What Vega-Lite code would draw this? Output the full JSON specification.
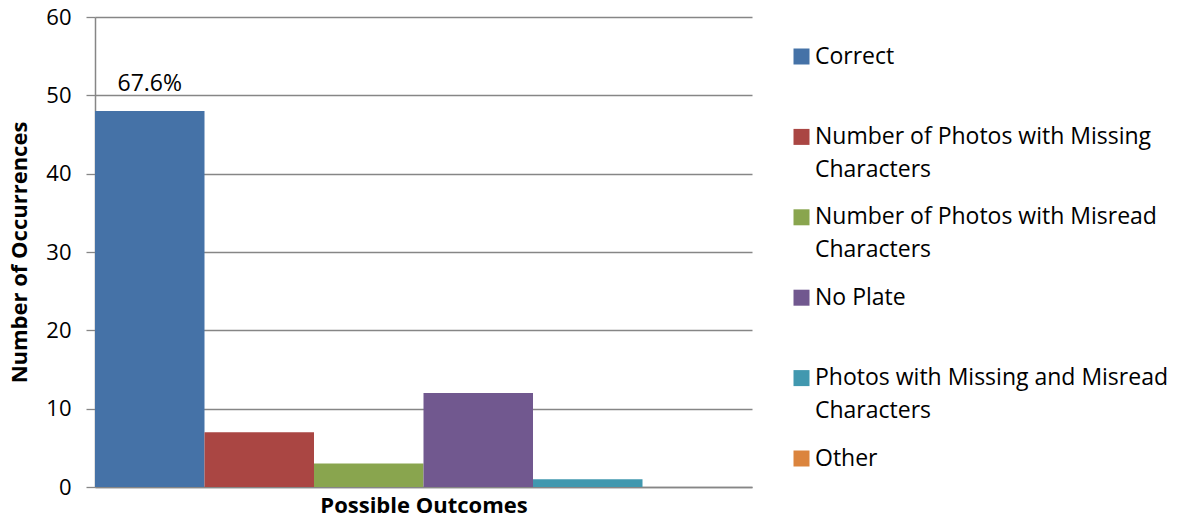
{
  "$schema": "https://vega.github.io/schema/vega-lite/v6.json",
  "width": 657,
  "height": 470,
  "autosize": {"type": "none"},
  "padding": {"left": 95, "top": 17, "right": 440, "bottom": 38},
  "background": "white",
  "config": {
    "view": {"stroke": null},
    "font": "Open Sans",
    "style": {"guide-label": {"lineHeight": 33}}
  },
  "data": {
    "values": [
      {"outcome": "Correct", "count": 48, "label": "67.6%"},
      {"outcome": "Number of Photos with Missing Characters", "count": 7, "label": ""},
      {"outcome": "Number of Photos with Misread Characters", "count": 3, "label": ""},
      {"outcome": "No Plate", "count": 12, "label": ""},
      {"outcome": "Photos with Missing and Misread Characters", "count": 1, "label": ""},
      {"outcome": "Other", "count": 0, "label": ""}
    ]
  },
  "encoding": {
    "x": {
      "field": "outcome",
      "type": "nominal",
      "sort": null,
      "scale": {"paddingInner": 0, "paddingOuter": 0},
      "axis": {
        "labels": false,
        "ticks": false,
        "domainColor": "#868686",
        "domainWidth": 1.5,
        "title": "Possible Outcomes",
        "titleFont": "Open Sans",
        "titleFontSize": 22,
        "titleFontWeight": "bold",
        "titleColor": "black",
        "titlePadding": 8
      }
    },
    "y": {
      "field": "count",
      "type": "quantitative",
      "scale": {"domain": [0, 60]},
      "axis": {
        "values": [0, 10, 20, 30, 40, 50, 60],
        "grid": true,
        "gridColor": "#868686",
        "gridWidth": 1.3,
        "domainColor": "#868686",
        "domainWidth": 1.5,
        "tickColor": "#868686",
        "tickSize": 9,
        "tickWidth": 1.3,
        "labelFont": "Open Sans",
        "labelFontSize": 22,
        "labelColor": "black",
        "labelPadding": 15,
        "title": "Number of Occurrences",
        "titleFont": "Open Sans",
        "titleFontSize": 22,
        "titleFontWeight": "bold",
        "titleColor": "black",
        "titlePadding": 14
      }
    }
  },
  "layer": [
    {
      "mark": {"type": "bar"},
      "encoding": {
        "color": {
          "field": "outcome",
          "type": "nominal",
          "sort": null,
          "scale": {
            "domain": ["Correct", "Number of Photos with Missing Characters", "Number of Photos with Misread Characters", "No Plate", "Photos with Missing and Misread Characters", "Other"],
            "range": ["#4572A7", "#AA4643", "#89A54E", "#71588F", "#4198AF", "#DB843D"]
          },
          "legend": {
            "title": null,
            "orient": "none",
            "legendX": 695,
            "legendY": 28,
            "gridAlign": "all",
            "symbolType": "square",
            "symbolSize": 256,
            "symbolStrokeWidth": 0,
            "symbolOpacity": 1,
            "labelFont": "Open Sans",
            "labelFontSize": 23,
            "labelColor": "black",
            "labelLimit": 420,
            "labelOffset": 2,
            "labelBaseline": "middle",
            "rowPadding": 23.4,
            "labelExpr": "datum.value == 'Number of Photos with Missing Characters' ? ['\\u00a0Number of Photos with Missing', 'Characters'] : datum.value == 'Number of Photos with Misread Characters' ? ['\\u00a0Number of Photos with Misread', 'Characters'] : datum.value == 'Photos with Missing and Misread Characters' ? ['\\u00a0Photos with Missing and Misread', 'Characters'] : datum.value == 'No Plate' ? ['\\u00a0No Plate', ''] : [datum.value, '']"
          }
        }
      }
    },
    {
      "mark": {"type": "text", "dy": -27, "fontSize": 23, "font": "Open Sans", "color": "black", "baseline": "middle"},
      "encoding": {
        "text": {"field": "label"}
      }
    }
  ]
}
